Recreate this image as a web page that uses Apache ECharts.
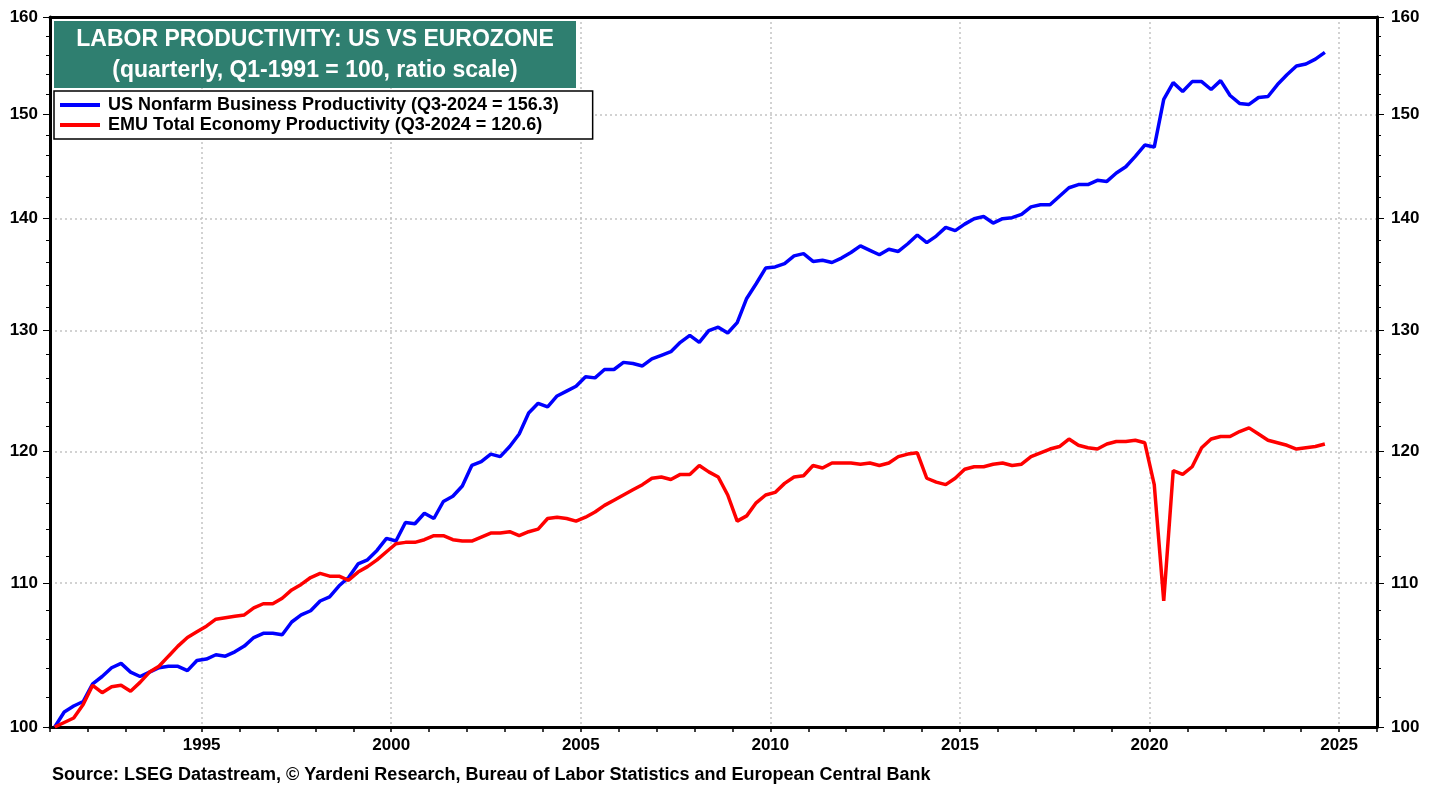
<!DOCTYPE html>
<html>
<head>
<meta charset="utf-8">
<title>Labor Productivity: US vs Eurozone</title>
<script src="https://cdn.jsdelivr.net/npm/echarts@6/dist/echarts.min.js"></script>
<style>
  html, body { margin: 0; padding: 0; background: #fff; }
  #chart { width: 1439px; height: 787px; }
</style>
</head>
<body>
<div id="chart"></div>
<script>
// quarterly data, Q1-1991 .. Q3-2024, index Q1-1991 = 100
const startYear = 1991;
const usProductivity = [
  100.0, 101.0, 101.4, 101.7, 102.9, 103.4, 104.0, 104.3, 103.7, 103.4,
  103.7, 104.0, 104.1, 104.1, 103.8, 104.5, 104.6, 104.9, 104.8, 105.1,
  105.5, 106.1, 106.4, 106.4, 106.3, 107.2, 107.7, 108.0, 108.7, 109.0,
  109.8, 110.4, 111.4, 111.7, 112.4, 113.3, 113.1, 114.5, 114.4, 115.2,
  114.8, 116.1, 116.5, 117.3, 118.9, 119.2, 119.8, 119.6, 120.4, 121.4,
  123.1, 123.9, 123.6, 124.5, 124.9, 125.3, 126.1, 126.0, 126.7, 126.7,
  127.3, 127.2, 127.0, 127.6, 127.9, 128.2, 129.0, 129.6, 129.0, 130.0,
  130.3, 129.8, 130.7, 132.8, 134.1, 135.5, 135.6, 135.9, 136.6, 136.8,
  136.1, 136.2, 136.0, 136.4, 136.9, 137.5, 137.1, 136.7, 137.2, 137.0,
  137.7, 138.5, 137.8, 138.4, 139.2, 138.9, 139.5, 140.0, 140.2, 139.6,
  140.0, 140.1, 140.4, 141.1, 141.3, 141.3, 142.1, 142.9, 143.2, 143.2,
  143.6, 143.5, 144.3, 144.9, 145.9, 147.0, 146.8, 151.5, 153.2, 152.3,
  153.3, 153.3, 152.5, 153.4, 151.9, 151.1, 151.0, 151.7, 151.8, 153.0,
  154.0, 154.9, 155.1, 155.6, 156.3
];
const emuProductivity = [
  100.0, 100.3, 100.6, 101.5, 102.8, 102.3, 102.7, 102.8, 102.4, 103.0,
  103.7, 104.1, 104.8, 105.5, 106.1, 106.5, 106.9, 107.4, 107.5, 107.6,
  107.7, 108.2, 108.5, 108.5, 108.9, 109.5, 109.9, 110.4, 110.7, 110.5,
  110.5, 110.2, 110.8, 111.2, 111.7, 112.3, 112.9, 113.0, 113.0, 113.2,
  113.5, 113.5, 113.2, 113.1, 113.1, 113.4, 113.7, 113.7, 113.8, 113.5,
  113.8, 114.0, 114.8, 114.9, 114.8, 114.6, 114.9, 115.3, 115.8, 116.2,
  116.6, 117.0, 117.4, 117.9, 118.0, 117.8, 118.2, 118.2, 118.9, 118.4,
  118.0, 116.6, 114.6, 115.0, 116.0, 116.6, 116.8, 117.5, 118.0, 118.1,
  118.9, 118.7, 119.1, 119.1, 119.1, 119.0, 119.1, 118.9, 119.1, 119.6,
  119.8, 119.9, 117.9, 117.6, 117.4, 117.9, 118.6, 118.8, 118.8, 119.0,
  119.1, 118.9, 119.0, 119.6, 119.9, 120.2, 120.4, 121.0, 120.5, 120.3,
  120.2, 120.6, 120.8, 120.8, 120.9, 120.7, 117.4, 108.7, 118.5, 118.2,
  118.8, 120.3, 121.0, 121.2, 121.2, 121.6, 121.9, 121.4, 120.9, 120.7,
  120.5, 120.2, 120.3, 120.4, 120.6
];
const seriesNames = [
  'US Nonfarm Business Productivity (Q3-2024 = 156.3)',
  'EMU Total Economy Productivity (Q3-2024 = 120.6)'
];
const yearLabels = [1995, 2000, 2005, 2010, 2015, 2020, 2025];
const yearTicks = [1991, 1992, 1993, 1994, 1995, 1996, 1997, 1998, 1999, 2000,
  2001, 2002, 2003, 2004, 2005, 2006, 2007, 2008, 2009, 2010, 2011, 2012, 2013,
  2014, 2015, 2016, 2017, 2018, 2019, 2020, 2021, 2022, 2023, 2024, 2025, 2026];
const valueLabels = [100, 110, 120, 130, 140, 150, 160];
const valueTicks = [100, 102, 104, 106, 108, 110, 112, 114, 116, 118, 120, 122,
  124, 126, 128, 130, 132, 134, 136, 138, 140, 142, 144, 146, 148, 150, 152,
  154, 156, 158, 160];

const FONT = '"Liberation Sans", Arial, sans-serif';
const gridLine = { show: true, lineStyle: { color: '#c4c4c4', type: [2, 3], width: 1.5 } };

// quarters plotted at mid-quarter
const toPoints = arr => arr.map((v, i) => [startYear + i / 4 + 0.125, v]);

const chart = echarts.init(document.getElementById('chart'));

const yBase = {
  type: 'log', logBase: 10, min: 100, max: 160
};
const labelFont = { color: '#000', fontFamily: FONT, fontWeight: 'bold', fontSize: 17 };

chart.setOption({
  animation: false,
  grid: { left: 50, right: 62, top: 17, bottom: 60, containLabel: false, outerBoundsMode: 'none' },
  xAxis: [
    {
      type: 'value', min: 1991, max: 2026, position: 'bottom',
      axisLine: { show: true, onZero: false, lineStyle: { color: '#000', width: 3 } },
      axisTick: { show: true, customValues: yearTicks, length: 5, lineStyle: { color: '#000', width: 1.5 } },
      axisLabel: Object.assign({ customValues: yearLabels, margin: 10, formatter: v => String(v) }, labelFont),
      splitLine: { show: false }
    },
    {
      type: 'value', min: 1991, max: 2026, position: 'top',
      axisLine: { show: true, onZero: false, lineStyle: { color: '#000', width: 3 } },
      axisTick: { show: false, customValues: yearLabels },
      axisLabel: { show: false },
      splitLine: gridLine
    }
  ],
  yAxis: [
    Object.assign({}, yBase, {
      position: 'left',
      axisLine: { show: true, onZero: false, lineStyle: { color: '#000', width: 3 } },
      axisTick: { show: true, customValues: valueTicks, length: 4, lineStyle: { color: '#000', width: 1 } },
      axisLabel: Object.assign({ customValues: valueLabels, margin: 12, formatter: v => String(Math.round(v)) }, labelFont),
      splitLine: { show: false }
    }),
    Object.assign({}, yBase, {
      position: 'right',
      axisLine: { show: true, onZero: false, lineStyle: { color: '#000', width: 3 } },
      axisTick: { show: true, customValues: valueTicks, length: 4, lineStyle: { color: '#000', width: 1 } },
      axisLabel: Object.assign({ customValues: valueLabels, margin: 14, formatter: v => String(Math.round(v)) }, labelFont),
      splitLine: { show: false }
    }),
    Object.assign({}, yBase, {
      position: 'left',
      axisLine: { show: false },
      axisTick: { show: true, customValues: valueLabels, length: 7, lineStyle: { color: '#000', width: 1 } },
      axisLabel: { show: false },
      splitLine: gridLine
    }),
    Object.assign({}, yBase, {
      position: 'right',
      axisLine: { show: false },
      axisTick: { show: true, customValues: valueLabels, length: 7, lineStyle: { color: '#000', width: 1 } },
      axisLabel: { show: false },
      splitLine: { show: false }
    })
  ],
  legend: {
    left: 54, top: 91, orient: 'vertical',
    backgroundColor: '#fff', borderColor: '#000', borderWidth: 1.5,
    padding: [5, 34, 5, 6], itemGap: 2, itemWidth: 40, itemHeight: 4, icon: 'rect',
    textStyle: { color: '#000', fontFamily: FONT, fontWeight: 'bold', fontSize: 18, padding: [0, 0, 0, 3] },
    data: seriesNames
  },
  graphic: [
    { type: 'rect', x: 54, y: 21, shape: { width: 522, height: 67 }, style: { fill: '#2f7f70' }, z: 10 },
    {
      type: 'text', x: 315, y: 40, z: 11,
      style: { text: 'LABOR PRODUCTIVITY: US VS EUROZONE', fill: '#fff', font: 'bold 23px ' + FONT, align: 'center', verticalAlign: 'middle' }
    },
    {
      type: 'text', x: 315, y: 71, z: 11,
      style: { text: '(quarterly, Q1-1991 = 100, ratio scale)', fill: '#fff', font: 'bold 23px ' + FONT, align: 'center', verticalAlign: 'middle' }
    },
    {
      type: 'text', x: 52, y: 775,
      style: { text: 'Source: LSEG Datastream, © Yardeni Research, Bureau of Labor Statistics and European Central Bank', fill: '#000', font: 'bold 18px ' + FONT, align: 'left', verticalAlign: 'middle' }
    }
  ],
  series: [
    {
      name: seriesNames[0], type: 'line', xAxisIndex: 0, yAxisIndex: 0,
      data: toPoints(usProductivity), symbol: 'none', showSymbol: false,
      lineStyle: { color: '#0000ff', width: 3.5 }, itemStyle: { color: '#0000ff' }
    },
    {
      name: seriesNames[1], type: 'line', xAxisIndex: 0, yAxisIndex: 0,
      data: toPoints(emuProductivity), symbol: 'none', showSymbol: false,
      lineStyle: { color: '#ff0000', width: 3.5 }, itemStyle: { color: '#ff0000' }
    }
  ]
});

window.addEventListener('resize', () => chart.resize());
</script>
</body>
</html>
